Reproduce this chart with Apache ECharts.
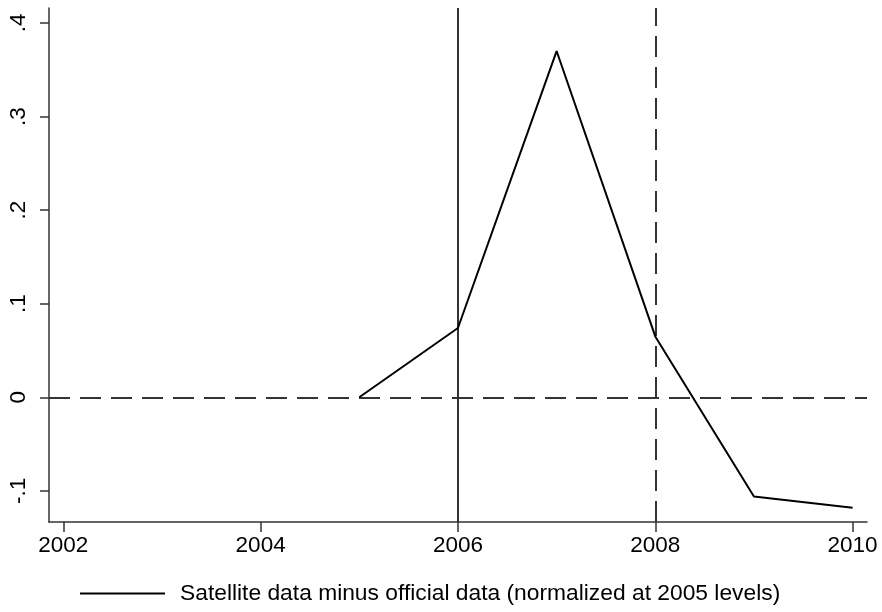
<!DOCTYPE html>
<html>
<head>
<meta charset="utf-8">
<script src="https://cdn.jsdelivr.net/npm/echarts@6/dist/echarts.min.js"></script>
<style>
  html, body { margin: 0; padding: 0; background: #fff; }
  #chart { width: 882px; height: 612px; }
</style>
</head>
<body>
<div id="chart"></div>
<script>
// Years and the satellite-minus-official difference (normalized at 2005)
const years = [2005, 2006, 2007, 2008, 2009, 2010];
const diff = [0, 0.074, 0.370, 0.065, -0.106, -0.118];

// Axis tick positions and labels
const xTicks = [2002, 2004, 2006, 2008, 2010];
const yTicks = [-0.1, 0, 0.1, 0.2, 0.3, 0.4];
const yTickLabels = ['-.1', '0', '.1', '.2', '.3', '.4'];

// Reference lines
const solidYear = 2006;
const dashedYear = 2008;
const zeroLevel = 0;

const seriesName = 'Satellite data minus official data (normalized at 2005 levels)';

const font = '"Liberation Sans", Arial, Helvetica, sans-serif';
const axisColor = '#333';
const dash = [21, 10];

const chart = echarts.init(document.getElementById('chart'), null, { renderer: 'canvas' });

chart.setOption({
  animation: false,
  backgroundColor: '#fff',
  grid: { left: 49, right: 15, top: 8, bottom: 90, containLabel: false },
  xAxis: {
    type: 'value',
    min: 2001.855,
    max: 2010.146,
    splitLine: { show: false },
    axisLine: { show: true, onZero: false, lineStyle: { color: axisColor, width: 1.5 } },
    axisTick: { show: true, length: 10, customValues: xTicks, lineStyle: { color: axisColor, width: 1.5 } },
    axisLabel: {
      customValues: xTicks,
      margin: 12,
      color: '#000',
      fontFamily: font,
      fontSize: 22.5,
      formatter: v => String(v)
    }
  },
  yAxis: {
    type: 'value',
    min: -0.1333,
    max: 0.416,
    splitLine: { show: false },
    axisLine: { show: true, onZero: false, lineStyle: { color: axisColor, width: 1.5 } },
    axisTick: { show: true, length: 9, customValues: yTicks, lineStyle: { color: axisColor, width: 1.5 } },
    axisLabel: {
      customValues: yTicks,
      rotate: 90,
      margin: 19,
      color: '#000',
      fontFamily: font,
      fontSize: 22.5,
      formatter: v => {
        const i = yTicks.findIndex(t => Math.abs(t - v) < 1e-9);
        return i >= 0 ? yTickLabels[i] : '';
      }
    }
  },
  legend: {
    show: true,
    left: 75,
    top: 577,
    itemWidth: 85,
    itemHeight: 14,
    textStyle: { color: '#000', fontFamily: font, fontSize: 22.8, padding: [0, 0, 0, 10] },
    data: [{ name: seriesName, icon: 'path://M0,0 L85,0 L85,2 L0,2 Z' }]
  },
  series: [
    {
      name: seriesName,
      type: 'line',
      data: years.map((y, i) => [y, diff[i]]),
      symbol: 'none',
      lineStyle: { color: '#000', width: 2 },
      itemStyle: { color: '#000' },
      z: 5,
      markLine: {
        silent: true,
        symbol: ['none', 'none'],
        label: { show: false },
        data: [
          { xAxis: solidYear, lineStyle: { type: 'solid', color: axisColor, width: 2 } },
          { xAxis: dashedYear, lineStyle: { type: dash, color: axisColor, width: 2 } },
          { yAxis: zeroLevel, lineStyle: { type: dash, color: axisColor, width: 2 } }
        ]
      }
    }
  ]
});
</script>
</body>
</html>
